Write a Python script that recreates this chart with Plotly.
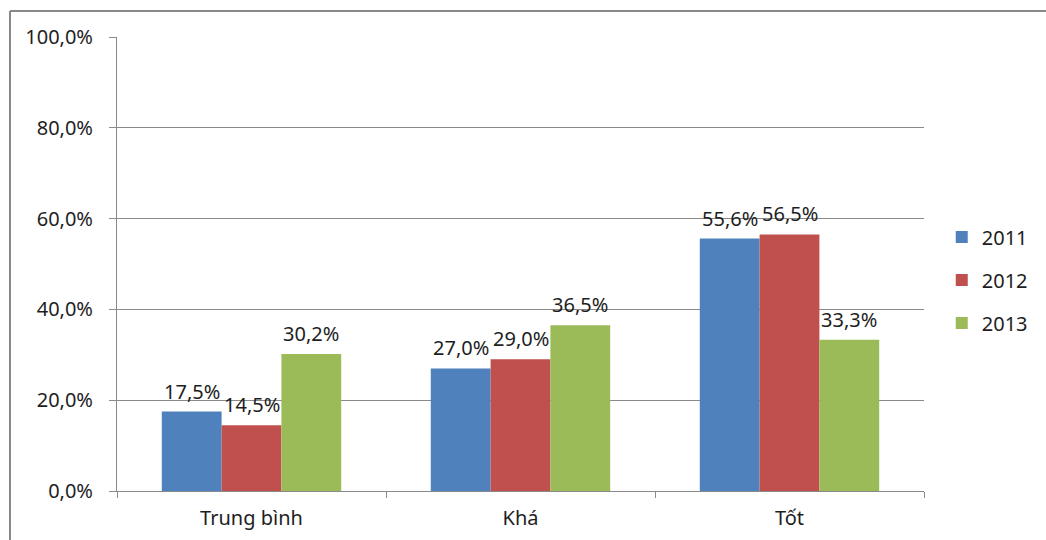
import plotly.graph_objects as go

# Rating categories and share of each rating per year (%)
categories = ["Trung bình", "Khá", "Tốt"]
years = ["2011", "2012", "2013"]
values_2011 = [17.5, 27.0, 55.6]
values_2012 = [14.5, 29.0, 56.5]
values_2013 = [30.2, 36.5, 33.3]

series = [values_2011, values_2012, values_2013]
colors = ["#4F81BD", "#C0504D", "#9BBB59"]

FONT = "Noto Sans"
TEXT_COLOR = "#1e1e1e"
AXIS_COLOR = "#8a8a8a"
BARGAP = 0.333
bar_w = (1 - BARGAP) / len(series)   # width of one bar in category units


def fmt_pct(v):
    return f"{v:.1f}%".replace(".", ",")


fig = go.Figure()
annotations = []
for i, (year, vals) in enumerate(zip(years, series)):
    fig.add_trace(go.Bar(
        name=year,
        x=categories,
        y=vals,
        marker=dict(color=colors[i], line=dict(width=0)),
        legendgroup=year,
    ))
    # value labels sitting above each bar
    for j, v in enumerate(vals):
        annotations.append(dict(
            x=j + (i - (len(series) - 1) / 2) * bar_w,
            y=v,
            xref="x", yref="y",
            text=fmt_pct(v),
            showarrow=False,
            yanchor="bottom",
            yshift=5,
            font=dict(family=FONT, size=20, color=TEXT_COLOR),
        ))

fig.update_layout(
    width=1046,
    height=540,
    margin=dict(l=117, r=122, t=37, b=49),
    paper_bgcolor="white",
    plot_bgcolor="white",
    separators=",.",
    barmode="group",
    bargap=BARGAP,
    bargroupgap=0,
    font=dict(family=FONT, size=20, color=TEXT_COLOR),
    showlegend=True,
    legend=dict(
        x=1.022, xanchor="left",
        y=0.465, yanchor="middle",
        font=dict(family=FONT, size=20, color=TEXT_COLOR),
        tracegroupgap=14,
        itemwidth=30,
        bgcolor="rgba(0,0,0,0)",
    ),
    xaxis=dict(
        type="category",
        automargin=False,
        showline=True,
        linecolor=AXIS_COLOR,
        linewidth=1,
        ticks="outside",
        tickson="boundaries",
        ticklen=6,
        tickcolor=AXIS_COLOR,
        showgrid=False,
        tickfont=dict(family=FONT, size=20, color=TEXT_COLOR),
        ticklabelstandoff=9,
    ),
    yaxis=dict(
        automargin=False,
        range=[0, 100],
        dtick=20,
        tick0=0,
        tickformat=".1f",
        ticksuffix="%",
        showline=True,
        linecolor=AXIS_COLOR,
        linewidth=1,
        ticks="outside",
        ticklen=7,
        tickcolor=AXIS_COLOR,
        showgrid=True,
        gridcolor=AXIS_COLOR,
        gridwidth=1,
        zeroline=False,
        tickfont=dict(family=FONT, size=20, color=TEXT_COLOR),
        ticklabelstandoff=12,
    ),
    annotations=annotations,
    shapes=[
        # chart frame (top and left edges visible)
        dict(type="line", xref="paper", yref="paper",
             x0=-0.1326, x1=1.2, y0=1.057, y1=1.057,
             line=dict(color="#888888", width=2)),
        dict(type="line", xref="paper", yref="paper",
             x0=-0.1326, x1=-0.1326, y0=1.057, y1=-0.2,
             line=dict(color="#888888", width=2)),
    ],
)

fig.write_html("out.html")
